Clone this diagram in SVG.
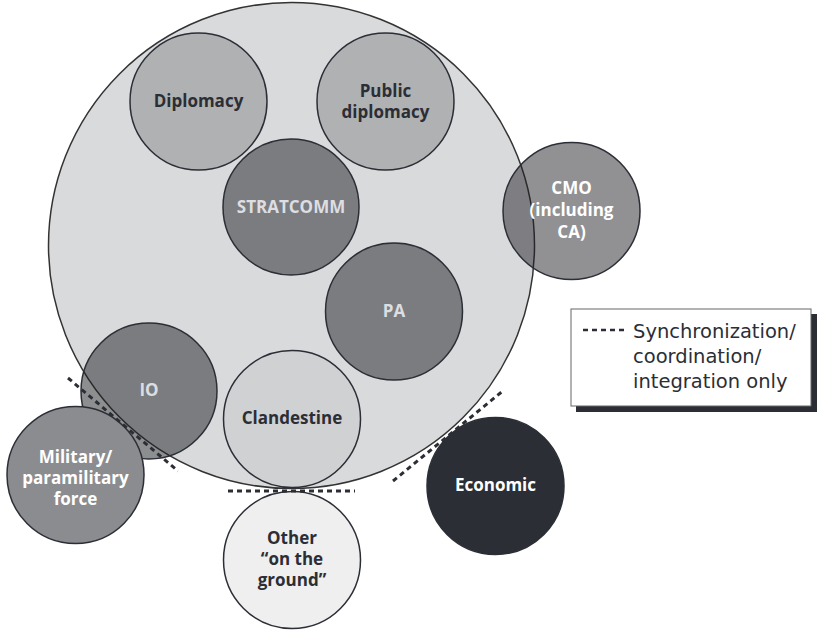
<svg xmlns="http://www.w3.org/2000/svg" width="827" height="630" viewBox="0 0 827 630">
<style>
.c{stroke:#2b2e35;stroke-width:1.5}
.t{font-family:"Open Sans","Noto Sans",sans-serif;font-weight:bold;font-size:17px;text-anchor:middle}
.dk{fill:#2b2e35}
.lt{fill:#dcdee2}
.wh{fill:#ffffff}
.dash{fill:none;stroke:#2b2e35;stroke-width:3;stroke-dasharray:5 4}
.lg{font-family:"DejaVu Sans","Open Sans",sans-serif;font-size:19.5px;fill:#2b2e35}
</style>
<rect width="827" height="630" fill="#ffffff"/>
<g id="outer"><circle cx="291.5" cy="245.5" r="243" fill="#d9dadc" stroke="#333" stroke-width="1.5"/></g>
<g id="diplomacy"><circle class="c" cx="198.5" cy="101.5" r="68.5" fill="#b0b1b3"/><text class="t dk" x="198.5" y="107">Diplomacy</text></g>
<g id="public-diplomacy"><circle class="c" cx="385.5" cy="101.5" r="68.5" fill="#b0b1b3"/><text class="t dk" x="385.5" y="97">Public</text><text class="t dk" x="385.5" y="118">diplomacy</text></g>
<g id="stratcomm"><circle class="c" cx="291" cy="207" r="68" fill="#7b7c80"/><text class="t lt" x="291" y="213">STRATCOMM</text></g>
<g id="pa"><circle class="c" cx="394" cy="311.5" r="68.5" fill="#7b7c80"/><text class="t lt" x="394" y="317">PA</text></g>
<g id="clandestine"><circle class="c" cx="292" cy="419" r="68.5" fill="#d0d1d3"/><text class="t dk" x="292" y="424">Clandestine</text></g>
<g id="io"><circle cx="149" cy="391" r="68" fill="#1c1d22" fill-opacity="0.5" stroke="#2b2e35" stroke-width="1.5"/><text class="t lt" x="149" y="396">IO</text></g>
<g id="cmo"><circle cx="571.5" cy="211" r="68.5" fill="#1e1f24" fill-opacity="0.49" stroke="#2b2e35" stroke-width="1.5"/><text class="t wh" x="571.5" y="194">CMO</text><text class="t wh" x="571.5" y="216">(including</text><text class="t wh" x="571.5" y="238">CA)</text></g>
<g id="military"><circle class="c" cx="75.5" cy="475" r="68.5" fill="#8b8c90"/><text class="t wh" x="75.5" y="463">Military/</text><text class="t wh" x="75.5" y="484">paramilitary</text><text class="t wh" x="75.5" y="505">force</text></g>
<g id="other"><circle class="c" cx="292" cy="560" r="68.5" fill="#efefef"/><text class="t dk" x="292" y="544">Other</text><text class="t dk" x="292" y="565">“on the</text><text class="t dk" x="292" y="586">ground”</text></g>
<g id="economic"><circle class="c" cx="495.5" cy="486" r="68.5" fill="#2b2e35"/><text class="t wh" x="495.5" y="491">Economic</text></g>
<g id="connectors">
<line class="dash" x1="68" y1="378" x2="178" y2="471"/>
<line class="dash" x1="228" y1="491" x2="355" y2="491"/>
<line class="dash" x1="393" y1="481" x2="504" y2="390"/>
</g>
<g id="legend">
<rect x="576" y="314" width="241" height="98" fill="#2b2e35"/>
<rect x="571" y="309" width="240" height="97" fill="#ffffff" stroke="#666" stroke-width="1"/>
<line x1="583" y1="330" x2="626" y2="330" stroke="#2b2e35" stroke-width="2.5" stroke-dasharray="5 4"/>
<text class="lg" x="633" y="338">Synchronization/</text>
<text class="lg" x="633" y="363">coordination/</text>
<text class="lg" x="633" y="388">integration only</text>
</g>
</svg>
